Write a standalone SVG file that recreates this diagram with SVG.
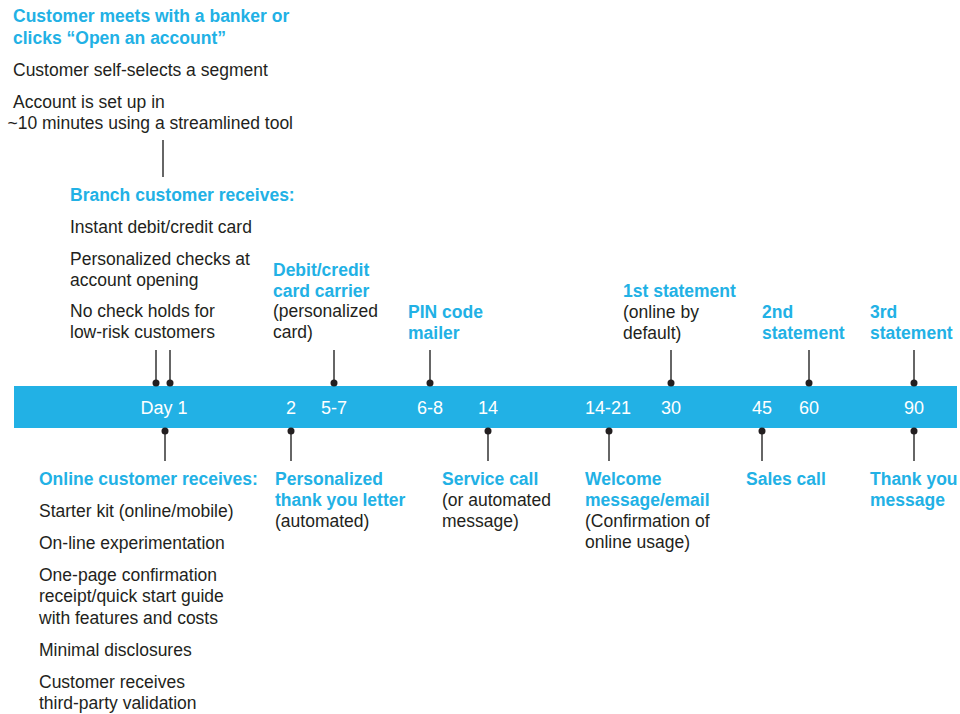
<svg xmlns="http://www.w3.org/2000/svg" width="960" height="714" viewBox="0 0 960 714">
<style>
text{font-family:"Liberation Sans",Arial,sans-serif;font-size:17.5px;fill:#231f20}
.h{fill:#22b1e5;font-weight:bold}
.d{fill:#ffffff;font-size:18px;text-anchor:middle}
.c line{stroke:#333333;stroke-width:1.5}
.c circle{fill:#231f20}
</style>
<rect width="960" height="714" fill="#ffffff"/>
<g id="band">
<rect x="14" y="386" width="943" height="42" fill="#22b1e5"/>
<text class="d" x="164" y="414">Day 1</text>
<text class="d" x="291" y="414">2</text>
<text class="d" x="334" y="414">5-7</text>
<text class="d" x="430" y="414">6-8</text>
<text class="d" x="488" y="414">14</text>
<text class="d" x="608" y="414">14-21</text>
<text class="d" x="671" y="414">30</text>
<text class="d" x="762" y="414">45</text>
<text class="d" x="809" y="414">60</text>
<text class="d" x="914" y="414">90</text>
</g>
<g id="connectors" class="c">
<line x1="163" y1="140" x2="163" y2="177"/>
<line x1="156" y1="350" x2="156" y2="383"/><circle cx="156" cy="383" r="3.5"/>
<line x1="170" y1="350" x2="170" y2="383"/><circle cx="170" cy="383" r="3.5"/>
<line x1="334" y1="350" x2="334" y2="383"/><circle cx="334" cy="383" r="3.5"/>
<line x1="430" y1="350" x2="430" y2="383"/><circle cx="430" cy="383" r="3.5"/>
<line x1="671" y1="350" x2="671" y2="383"/><circle cx="671" cy="383" r="3.5"/>
<line x1="809" y1="350" x2="809" y2="383"/><circle cx="809" cy="383" r="3.5"/>
<line x1="914" y1="350" x2="914" y2="383"/><circle cx="914" cy="383" r="3.5"/>
<line x1="165" y1="431" x2="165" y2="461"/><circle cx="165" cy="431" r="3.5"/>
<line x1="291" y1="431" x2="291" y2="461"/><circle cx="291" cy="431" r="3.5"/>
<line x1="488" y1="431" x2="488" y2="461"/><circle cx="488" cy="431" r="3.5"/>
<line x1="609" y1="431" x2="609" y2="461"/><circle cx="609" cy="431" r="3.5"/>
<line x1="762" y1="431" x2="762" y2="461"/><circle cx="762" cy="431" r="3.5"/>
<line x1="914" y1="431" x2="914" y2="461"/><circle cx="914" cy="431" r="3.5"/>
</g>
<g id="open">
<text class="h" x="13" y="22">Customer meets with a banker or</text>
<text class="h" x="13" y="44">clicks “Open an account”</text>
<text x="13" y="76">Customer self-selects a segment</text>
<text x="13" y="108">Account is set up in</text>
<text x="7.5" y="129">~10 minutes using a streamlined tool</text>
</g>
<g id="branch">
<text class="h" x="70" y="201">Branch customer receives:</text>
<text x="70" y="233">Instant debit/credit card</text>
<text x="70" y="265">Personalized checks at</text>
<text x="70" y="286">account opening</text>
<text x="70" y="317">No check holds for</text>
<text x="70" y="338">low-risk customers</text>
</g>
<g id="card">
<text class="h" x="273" y="276">Debit/credit</text>
<text class="h" x="273" y="297">card carrier</text>
<text x="273" y="317">(personalized</text>
<text x="273" y="338">card)</text>
</g>
<g id="pin">
<text class="h" x="408" y="318">PIN code</text>
<text class="h" x="408" y="339">mailer</text>
</g>
<g id="stmt1">
<text class="h" x="623" y="297">1st statement</text>
<text x="623" y="318">(online by</text>
<text x="623" y="339">default)</text>
</g>
<g id="stmt2">
<text class="h" x="762" y="318">2nd</text>
<text class="h" x="762" y="339">statement</text>
</g>
<g id="stmt3">
<text class="h" x="870" y="318">3rd</text>
<text class="h" x="870" y="339">statement</text>
</g>
<g id="online">
<text class="h" x="39" y="485">Online customer receives:</text>
<text x="39" y="517">Starter kit (online/mobile)</text>
<text x="39" y="549">On-line experimentation</text>
<text x="39" y="581">One-page confirmation</text>
<text x="39" y="602">receipt/quick start guide</text>
<text x="39" y="624">with features and costs</text>
<text x="39" y="656">Minimal disclosures</text>
<text x="39" y="688">Customer receives</text>
<text x="39" y="709">third-party validation</text>
</g>
<g id="letter">
<text class="h" x="275" y="485">Personalized</text>
<text class="h" x="275" y="506">thank you letter</text>
<text x="275" y="527">(automated)</text>
</g>
<g id="service">
<text class="h" x="442" y="485">Service call</text>
<text x="442" y="506">(or automated</text>
<text x="442" y="527">message)</text>
</g>
<g id="welcome">
<text class="h" x="585" y="485">Welcome</text>
<text class="h" x="585" y="506">message/email</text>
<text x="585" y="527">(Confirmation of</text>
<text x="585" y="548">online usage)</text>
</g>
<g id="sales">
<text class="h" x="746" y="485">Sales call</text>
</g>
<g id="thanks">
<text class="h" x="870" y="485">Thank you</text>
<text class="h" x="870" y="506">message</text>
</g>
</svg>
